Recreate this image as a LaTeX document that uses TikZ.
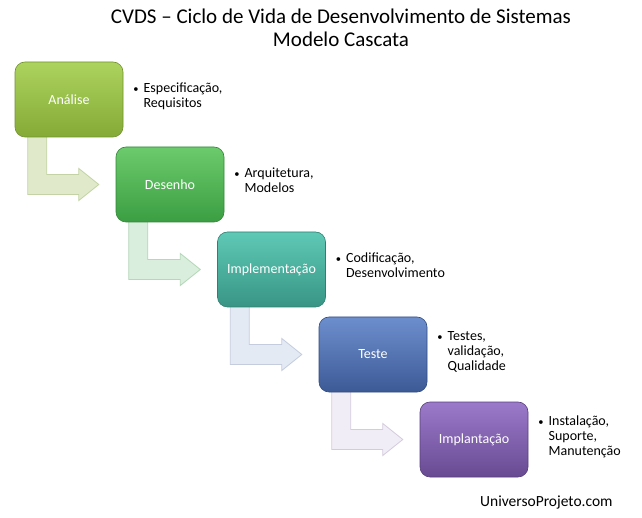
\documentclass[tikz,border=0pt]{standalone}
\usepackage{fontspec}
\setmainfont{Carlito}
\usetikzlibrary{calc}
\definecolor{c0t}{HTML}{ACD35E}\definecolor{c0b}{HTML}{85AB36}
\definecolor{c1t}{HTML}{6CCB6C}\definecolor{c1b}{HTML}{3B9E42}
\definecolor{c2t}{HTML}{5FC9B6}\definecolor{c2b}{HTML}{389585}
\definecolor{c3t}{HTML}{6D8ECD}\definecolor{c3b}{HTML}{3C5A96}
\definecolor{c4t}{HTML}{9B7ACB}\definecolor{c4b}{HTML}{684A92}
\definecolor{a0f}{HTML}{E0EACB}\definecolor{a0d}{HTML}{C3D3A6}
\definecolor{a1f}{HTML}{D9EEDC}\definecolor{a1d}{HTML}{B4D8B8}
\definecolor{a2f}{HTML}{E4EAF4}\definecolor{a2d}{HTML}{C4CCDE}
\definecolor{a3f}{HTML}{F1EDF6}\definecolor{a3d}{HTML}{D4CCDD}
\tikzset{
  phase/.style={minimum width=108pt,minimum height=75pt,rounded corners=10pt,
    text=white,font=\fontsize{14}{15}\selectfont,inner sep=0pt},
  bent/.style={line width=0.8pt,line join=miter},
  notes/.style={anchor=west,font=\fontsize{14}{15}\selectfont,inner sep=0pt,align=left},
}
\newcommand{\blist}[2]{\begin{tabular}{@{}l@{\hspace{5pt}}l@{}}\raisebox{0.5pt}{\scalebox{0.75}{\textbullet}} & #1\end{tabular}}
\begin{document}
\begin{tikzpicture}[x=1pt,y=-1pt]
\useasboundingbox[fill=white] (0,0) rectangle (642,518);
\node[font=\fontsize{21}{23}\selectfont,align=center] (title) at (341,28)
  {CVDS -- Ciclo de Vida de Desenvolvimento de Sistemas\\Modelo Cascata};
% boxes placed first (for names), drawn on top later
\begin{scope}[opacity=0]
\node[phase] (b0) at (69,99.5) {};
\node[phase] (b1) at (170,184.5) {};
\node[phase] (b2) at (271.5,269.5) {};
\node[phase] (b3) at (373,354.5) {};
\node[phase] (b4) at (474,439.5) {};
\end{scope}
% bent arrows
\foreach \a/\b/\f/\d in {b0/b1/a0f/a0d, b1/b2/a1f/a1d, b2/b3/a2f/a2d, b3/b4/a3f/a3d}{
  \path[bent,fill=\f,draw=\d] let \p1=(\a.south west), \p2=(\b.west) in
    (\x1+13pt,\y1+6pt) -- (\x1+32pt,\y1+6pt) -- (\x1+32pt,\y2+10pt)
    -- (\x2-37pt,\y2+10pt) -- (\x2-37pt,\y2+16pt) -- (\x2-17pt,\y2)
    -- (\x2-37pt,\y2-16pt) -- (\x2-37pt,\y2-10pt) -- (\x1+13pt,\y2-10pt) -- cycle;
}
% visible boxes
\foreach \n/\t/\c/\lab in {b0/c0t/c0b/Análise, b1/c1t/c1b/Desenho, b2/c2t/c2b/Implementação, b3/c3t/c3b/Teste, b4/c4t/c4b/Implantação}{
  \node[phase,top color=\t,bottom color=\c,draw=\c!85!black,line width=0.6pt] (\n v) at (\n) {\lab};
}
\node[notes] (n0) at ($(b0.east)+(10,-2)$) {\blist{Especificação,\\ & Requisitos}{}};
\node[notes] (n1) at ($(b1.east)+(10,-2)$) {\blist{Arquitetura,\\ & Modelos}{}};
\node[notes] (n2) at ($(b2.east)+(10,-2)$) {\blist{Codificação,\\ & Desenvolvimento}{}};
\node[notes] (n3) at ($(b3.east)+(10,-2)$) {\blist{Testes,\\ & validação,\\ & Qualidade}{}};
\node[notes] (n4) at ($(b4.east)+(10,-2)$) {\blist{Instalação,\\ & Suporte,\\ & Manutenção}{}};
\node[font=\fontsize{15.5}{17}\selectfont,anchor=west,inner sep=0pt] (site) at (480,502) {UniversoProjeto.com};
\end{tikzpicture}
\end{document}
